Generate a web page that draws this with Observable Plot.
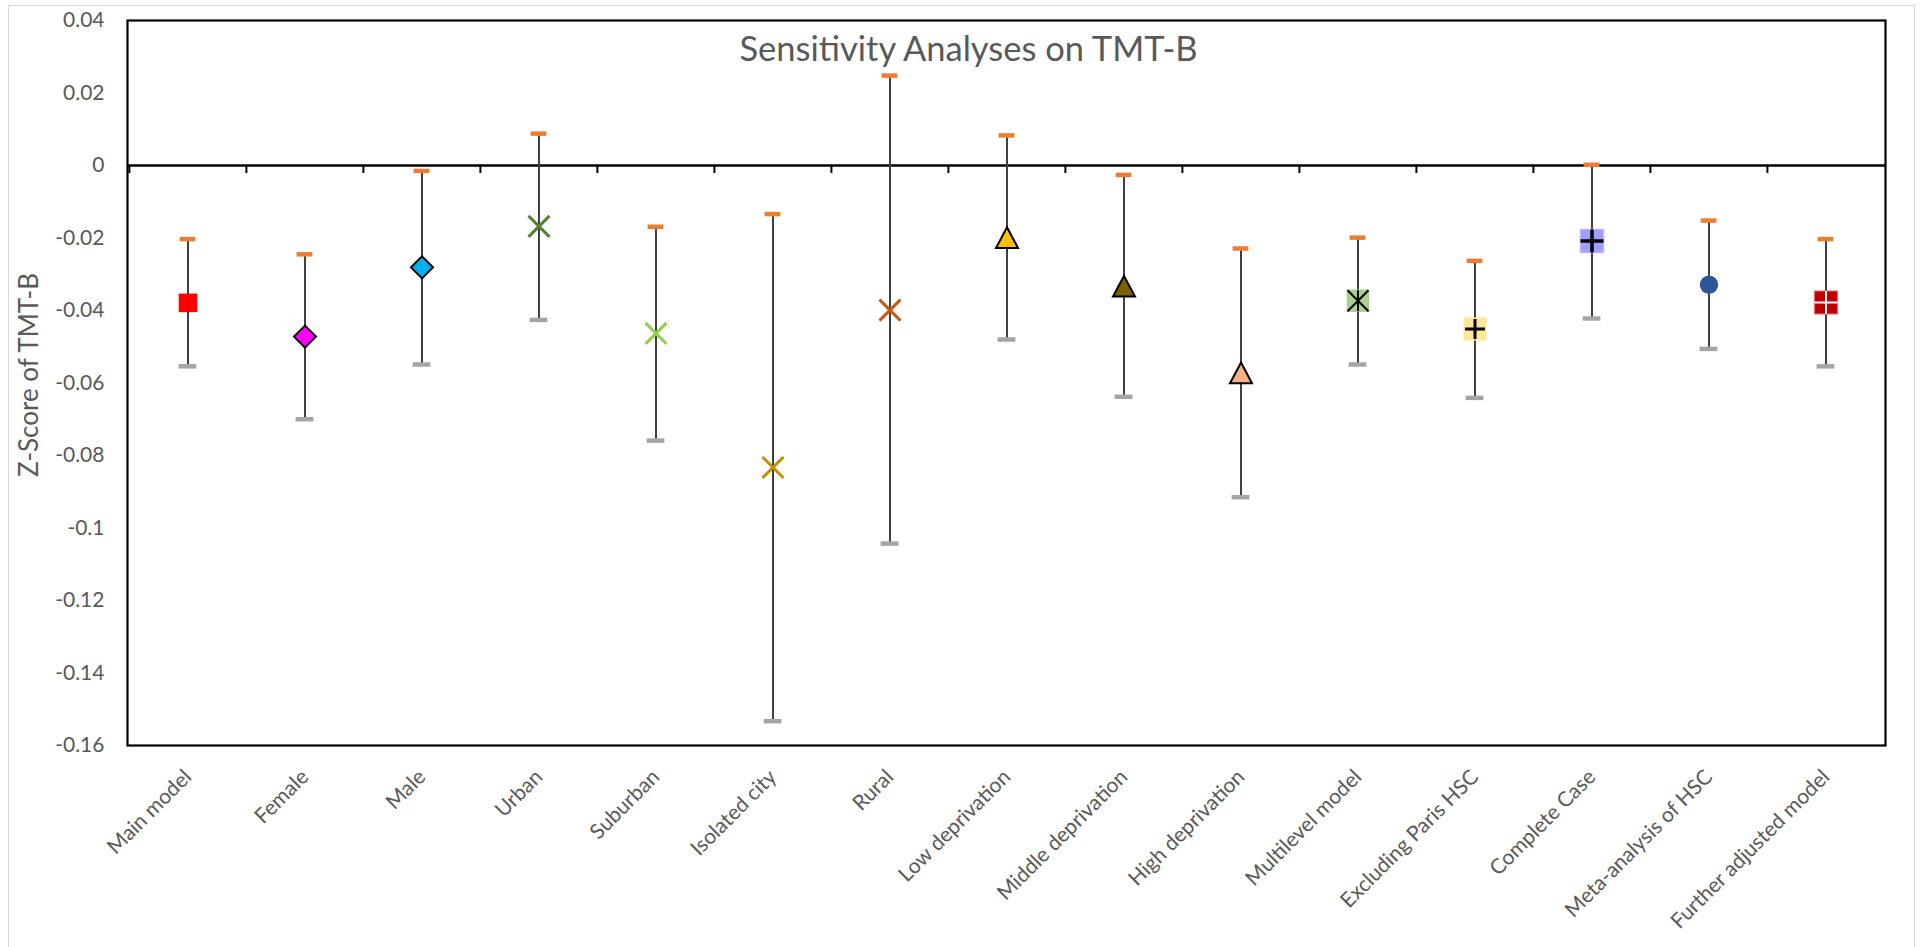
<!DOCTYPE html>
<html><head><meta charset="utf-8">
<script src="https://cdn.jsdelivr.net/npm/d3@7"></script>
<script src="https://cdn.jsdelivr.net/npm/@observablehq/plot@0.6"></script>
<style>
html,body{margin:0;padding:0;background:#fff;overflow:hidden;}
#wrap{position:relative;width:1928px;height:947px;overflow:hidden;background:#fff;}
#border{position:absolute;left:8px;top:5px;width:1907px;height:1200px;border:1.5px solid #D9D9D9;box-sizing:border-box;pointer-events:none;}
#chart svg{display:block;}
</style></head><body>
<div id="wrap"><div id="chart"></div><div id="border"></div></div>
<script>
// ---- data ----
const categories = ["Main model","Female","Male","Urban","Suburban","Isolated city","Rural","Low deprivation","Middle deprivation","High deprivation","Multilevel model","Excluding Paris HSC","Complete Case","Meta-analysis of HSC","Further adjusted model"];
const estimates = [-0.0379,-0.0472,-0.0281,-0.0168,-0.0463,-0.0833,-0.0399,-0.0199,-0.0333,-0.0572,-0.0373,-0.0451,-0.0208,-0.0329,-0.0378];
const lower = [-0.0554,-0.0700,-0.0549,-0.0426,-0.0759,-0.1533,-0.1043,-0.0480,-0.0638,-0.0915,-0.0549,-0.0641,-0.0422,-0.0506,-0.0554];
const upper = [-0.0203,-0.0245,-0.0015,0.0088,-0.0169,-0.0134,0.0248,0.0083,-0.0026,-0.0229,-0.0199,-0.0263,0.0002,-0.0152,-0.0203];
const yTicks = [0.04,0.02,0,-0.02,-0.04,-0.06,-0.08,-0.1,-0.12,-0.14,-0.16];
const yTickLabels = ["0.04","0.02","0","-0.02","-0.04","-0.06","-0.08","-0.1","-0.12","-0.14","-0.16"];
const chartTitle = "Sensitivity Analyses on TMT-B";
const yTitle = "Z-Score of TMT-B";

const data = categories.map((name, i) => ({name, est: estimates[i], lo: lower[i], hi: upper[i]}));

// ---- marker shapes ----
const shape = f => ({draw(ctx, size) { const r = Math.sqrt(size / Math.PI); f(ctx, r); }});
const SQ = shape((c, r) => { c.moveTo(-r, -r); c.lineTo(r, -r); c.lineTo(r, r); c.lineTo(-r, r); c.closePath(); });
const DIA = shape((c, r) => { c.moveTo(0, -r); c.lineTo(r, 0); c.lineTo(0, r); c.lineTo(-r, 0); c.closePath(); });
const TRI = shape((c, r) => { const h = r * 0.94; c.moveTo(0, -h); c.lineTo(r, h); c.lineTo(-r, h); c.closePath(); });
const XS = shape((c, r) => { c.moveTo(-r, -r); c.lineTo(r, r); c.moveTo(-r, r); c.lineTo(r, -r); });
const PLUS = shape((c, r) => { c.moveTo(-r, 0); c.lineTo(r, 0); c.moveTo(0, -r); c.lineTo(0, r); });
const STAR = shape((c, r) => { c.moveTo(-r, -r); c.lineTo(r, r); c.moveTo(-r, r); c.lineTo(r, -r); c.moveTo(0, -r); c.lineTo(0, r); });
const CIRC = shape((c, r) => { c.moveTo(r, 0); c.arc(0, 0, r, 0, 2 * Math.PI); });

const markerStyle = {
  "Main model": [{symbol: SQ, r: 9.3, fill: "#FF0000", stroke: "none"}],
  "Female": [{symbol: DIA, r: 11, fill: "#FF00FF", stroke: "#000", strokeWidth: 2}],
  "Male": [{symbol: DIA, r: 11, fill: "#00B0F0", stroke: "#000", strokeWidth: 2}],
  "Urban": [{symbol: XS, r: 10.5, fill: "none", stroke: "#548235", strokeWidth: 3}],
  "Suburban": [{symbol: XS, r: 10.5, fill: "none", stroke: "#92D050", strokeWidth: 3}],
  "Isolated city": [{symbol: XS, r: 10.5, fill: "none", stroke: "#BF9000", strokeWidth: 3}],
  "Rural": [{symbol: XS, r: 10.5, fill: "none", stroke: "#C55A11", strokeWidth: 3}],
  "Low deprivation": [{symbol: TRI, r: 11, fill: "#FFC000", stroke: "#000", strokeWidth: 2}],
  "Middle deprivation": [{symbol: TRI, r: 11, fill: "#7F6000", stroke: "#000", strokeWidth: 2}],
  "High deprivation": [{symbol: TRI, r: 11, fill: "#F4B183", stroke: "#000", strokeWidth: 2}],
  "Multilevel model": [{symbol: SQ, r: 11.3, fill: "#A9D18E", stroke: "none"}, {symbol: STAR, r: 10.5, fill: "none", stroke: "#000", strokeWidth: 2}],
  "Excluding Paris HSC": [{symbol: SQ, r: 11.5, fill: "#FFE699", stroke: "none"}, {symbol: PLUS, r: 10, fill: "none", stroke: "#000", strokeWidth: 3}],
  "Complete Case": [{symbol: SQ, r: 11.5, fill: "#9E9EFF", stroke: "#B8B8FF", strokeWidth: 1.5}, {symbol: PLUS, r: 11.5, fill: "none", stroke: "#000", strokeWidth: 3.5}],
  "Meta-analysis of HSC": [{symbol: CIRC, r: 9.2, fill: "#2F5597", stroke: "none"}],
  "Further adjusted model": [{symbol: SQ, r: 11.5, fill: "#C00000", stroke: "#E86A6A", strokeWidth: 1.2}, {symbol: PLUS, r: 11.5, fill: "none", stroke: "#FFFFFF", strokeWidth: 2}]
};

const W = 1928, H = 947, ML = 127, MR = 43, MT = 20, MB = 202;
const bw = (W - ML - MR) / categories.length;
const capUpperW = 16, capLowerW = 18;
const textColor = "#595959";
const font = "Lato, 'Open Sans', sans-serif";

const markerMarks = [];
for (const cat of categories) {
  for (const layer of markerStyle[cat]) {
    markerMarks.push(Plot.dot(data.filter(d => d.name === cat), {
      x: "name", y: "est", symbol: layer.symbol, r: layer.r,
      fill: layer.fill, stroke: layer.stroke, strokeWidth: layer.strokeWidth || 0,
      strokeLinejoin: "miter"
    }));
  }
}

const chart = Plot.plot({
  width: W, height: H,
  marginLeft: ML, marginRight: MR, marginTop: MT, marginBottom: MB,
  style: {fontFamily: font, fontSize: "21px", color: textColor, background: "white", overflow: "visible"},
  x: {type: "band", domain: categories, padding: 0, axis: null},
  y: {domain: [-0.16, 0.04], ticks: yTicks, tickSize: 0, tickPadding: 23,
      tickFormat: v => yTickLabels[yTicks.findIndex(t => Math.abs(t - v) < 1e-9)], label: null},
  marks: [
    Plot.ruleY([0], {stroke: "#000", strokeWidth: 2.6}),
    Plot.ruleX(categories, {x: d => d, y1: 0, y2: -0.0022, dx: -bw / 2, stroke: "#000", strokeWidth: 2}),
    Plot.frame({stroke: "#000", strokeWidth: 2.2}),
    Plot.ruleX(data, {x: "name", y1: "lo", y2: "hi", stroke: "#404040", strokeWidth: 2}),
    Plot.tickY(data, {x: "name", y: "hi", stroke: "#ED7D31", strokeWidth: 4.5, inset: (bw - capUpperW) / 2}),
    Plot.tickY(data, {x: "name", y: "lo", stroke: "#A5A5A5", strokeWidth: 4.5, inset: (bw - capLowerW) / 2}),
    ...markerMarks,
    Plot.text(categories, {x: d => d, text: d => d, frameAnchor: "bottom", rotate: -45, textAnchor: "end",
      lineAnchor: "middle", dy: 28, fill: textColor, fontSize: 21, fontFamily: font}),
    Plot.text([yTitle], {text: d => d, frameAnchor: "left", rotate: -90, dx: -98, dy: -8, lineAnchor: "middle",
      textAnchor: "middle", fill: textColor, fontSize: 26, fontFamily: font}),
    Plot.text([chartTitle], {text: d => d, frameAnchor: "top", dx: -38, dy: 40, lineAnchor: "bottom",
      textAnchor: "middle", fill: textColor, fontSize: 34.5, fontFamily: font})
  ]
});
document.getElementById("chart").appendChild(chart);
</script>
</body></html>
